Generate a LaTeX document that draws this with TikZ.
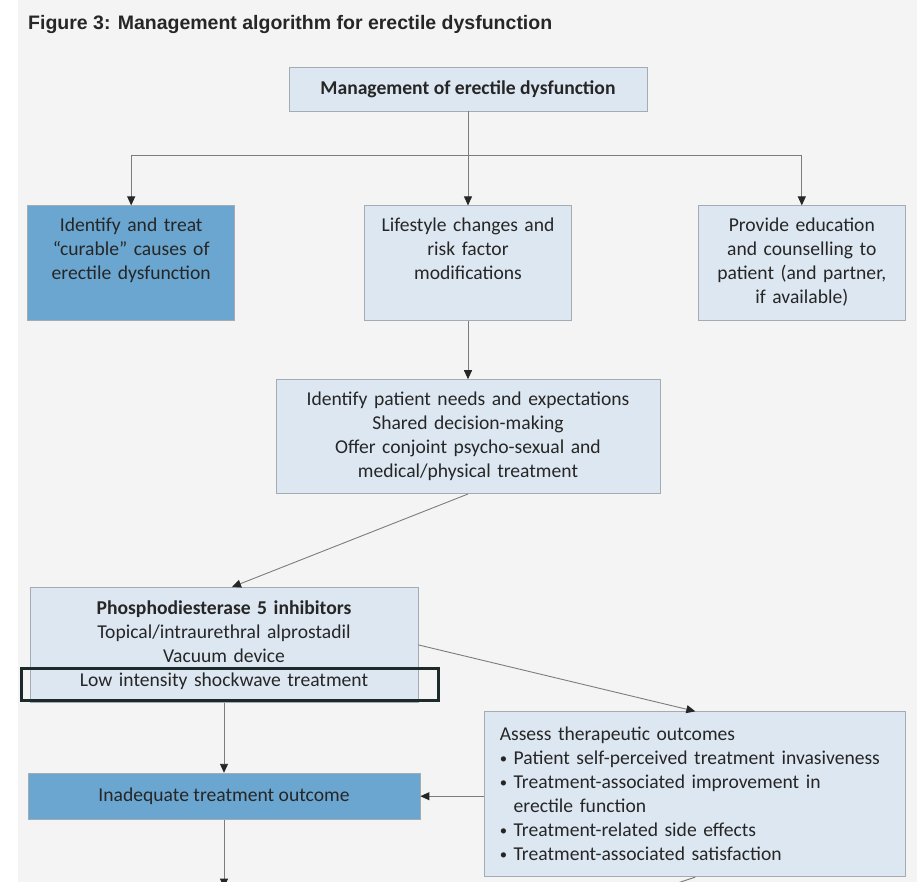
\documentclass[tikz,border=0pt]{standalone}
\usepackage{fontspec}
\setmainfont{Carlito}
\newfontfamily\titlefont{Liberation Sans}
\usepackage{xcolor}
\usetikzlibrary{arrows.meta, positioning, calc}
\definecolor{bgGray}{HTML}{F4F4F4}
\definecolor{boxLight}{HTML}{DDE7F2}
\definecolor{boxDark}{HTML}{6AA6CF}
\definecolor{boxEdge}{HTML}{A3ABB3}
\definecolor{txtDark}{HTML}{262626}
\definecolor{lineGray}{HTML}{7C7C7C}
\definecolor{hiliteEdge}{HTML}{1C2A2A}
\newcommand{\smallbul}{\raisebox{0.15ex}{\scalebox{0.75}{\textbullet}}}
\tikzset{
  box/.style={rectangle, draw=boxEdge, fill=boxLight, line width=0.8bp,
              align=center, text=txtDark, inner sep=0pt,
              font=\fontsize{19.6bp}{24bp}\selectfont},
  darkbox/.style={box, fill=boxDark},
  topbox/.style={minimum width=207bp, text width=200bp,
                 text height=26bp, text depth=89bp},
  line/.style={draw=lineGray, line width=0.9bp,
               -{Triangle[length=9bp, width=8bp, color=black!85]}},
  hilite/.style={draw=hiliteEdge, line width=3bp},
}

\begin{document}
\begin{tikzpicture}[x=1bp, y=1bp]
  \fill[white] (0,0) rectangle (917,-882);
  \fill[bgGray] (18,0) rectangle (917,-882);
  \useasboundingbox (0,0) rectangle (917,-882);

  \node[anchor=west, inner sep=0pt, text=txtDark,
        font=\titlefont\bfseries\fontsize{19.5bp}{22bp}\selectfont] (title)
    at (28,-25) {Figure 3: Management algorithm for erectile dysfunction};

  \node[box, minimum width=358bp, minimum height=44bp,
        font=\fontsize{19.6bp}{24bp}\selectfont\bfseries] (top)
    at (468,-89) {Management of erectile dysfunction};

  \node[box, topbox, below=94bp of top] (life)
    {Lifestyle changes and\\ risk factor\\ modifications};
  \node[darkbox, topbox, left=129bp of life] (cure)
    {Identify and treat\\ “curable” causes of\\ erectile dysfunction};
  \node[box, topbox, right=126bp of life] (edu)
    {Provide education\\ and counselling to\\ patient (and partner,\\ if available)};

  \node[box, minimum width=384bp, minimum height=114bp, text width=376bp,
        below=58bp of life] (needs)
    {Identify patient needs and expectations\\ Shared decision-making\\
     Offer conjoint psycho-sexual and\\ medical/physical treatment};

  \node[box, minimum width=388bp, minimum height=115bp, text width=376bp,
        below=93bp of needs, xshift=-244bp] (pde)
    {\textbf{Phosphodiesterase 5 inhibitors}\\ Topical/intraurethral alprostadil\\
     Vacuum device\\ Low intensity shockwave treatment};

  \node[darkbox, minimum width=392bp, minimum height=46bp,
        below=70bp of pde] (inad) {Inadequate treatment outcome};

  \node[box, align=left, minimum width=421bp, minimum height=165bp,
        text width=391bp, right=64bp of inad, yshift=2bp] (assess)
    {Assess therapeutic outcomes\\
     \smallbul~Patient self-perceived treatment invasiveness\\
     \smallbul~Treatment-associated improvement in\\
     \phantom{\smallbul~}erectile function\\
     \smallbul~Treatment-related side effects\\
     \smallbul~Treatment-associated satisfaction};

  % highlighted last line of the treatment box
  \draw[hilite] ($(pde.south west)+(-8,2)$) rectangle ($(pde.south east)+(20,34)$);

  \coordinate (split) at ($(top.south)+(0,-44)$);
  \coordinate (nextA) at ($(inad.south)+(0,-68)$);
  \coordinate (nextB) at ($(assess.south)+(-45,-15)$);

  \draw[draw=lineGray, line width=0.9bp] (top) -- (split);
  \draw[line] (split) -| (cure);
  \draw[line] (split) -- (life);
  \draw[line] (split) -| (edu);
  \draw[line] (life) -- (needs);
  \draw[line] (needs.south) -- ([xshift=8bp]pde.north);
  \draw[line] (pde.east) -- (assess.north);
  \draw[line] (pde) -- (inad);
  \draw[line] (assess.west |- inad.east) -- (inad.east);
  \draw[line] (inad) -- (nextA);
  \draw[line] (assess.south) -- (nextB);
\end{tikzpicture}
\end{document}
